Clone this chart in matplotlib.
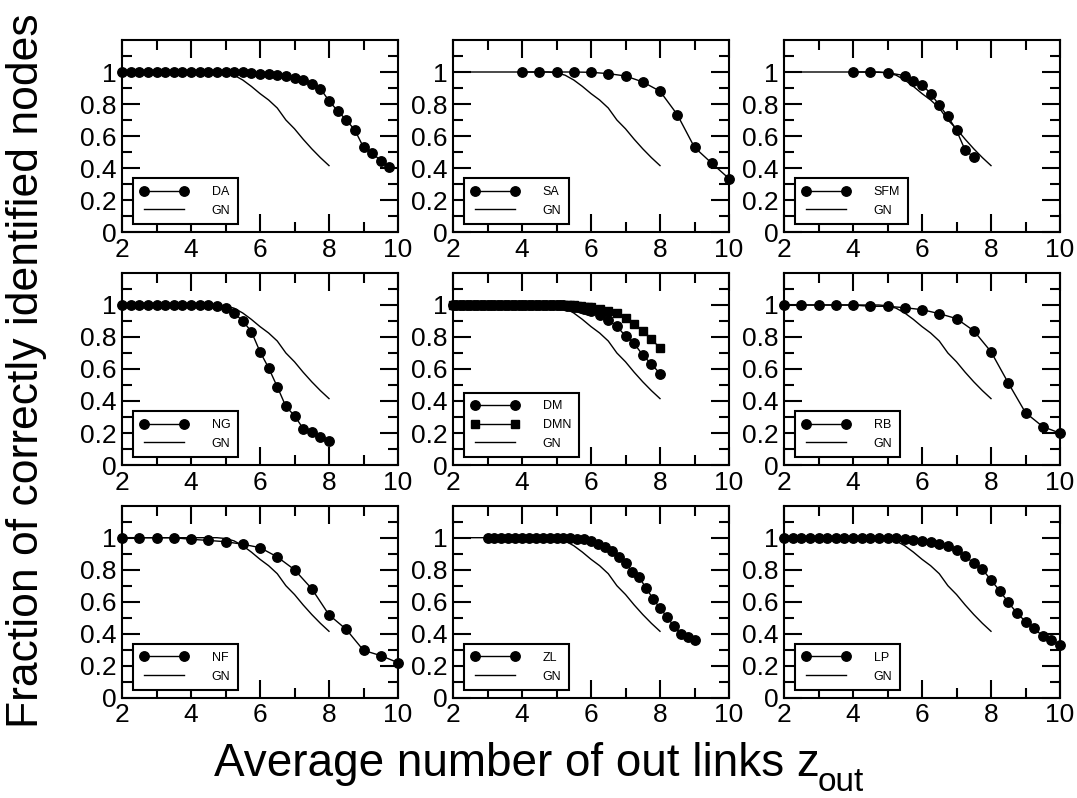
import matplotlib
matplotlib.use('Agg')
import matplotlib.pyplot as plt
import numpy as np

plt.rcParams['font.family'] = ['Liberation Sans', 'DejaVu Sans']

# GN reference curve (same in every panel)
gn_x = np.arange(2, 8.01, 0.25)
gn_y = [1.0, 1.0, 1.0, 1.0, 1.0, 1.0, 1.0, 1.0, 1.0, 1.0, 1.0, 1.0, 0.995,
        0.98, 0.95, 0.91, 0.865, 0.825, 0.775, 0.70, 0.645, 0.58, 0.52, 0.465, 0.415]

da_x = np.arange(2, 9.76, 0.25)
da_y = [1.0, 1.0, 1.0, 1.0, 1.0, 1.0, 1.0, 1.0, 1.0, 1.0, 1.0, 1.0, 1.0, 1.0, 1.0,
        0.996, 0.99, 0.985, 0.982, 0.973, 0.963, 0.952, 0.927, 0.896, 0.82, 0.757,
        0.70, 0.637, 0.529, 0.496, 0.444, 0.405]

sa_x = np.arange(4, 10.01, 0.5)
sa_y = [1.0, 1.0, 1.0, 1.0, 0.998, 0.99, 0.975, 0.938, 0.88, 0.734, 0.529, 0.43, 0.334]

sfm_x = [4, 4.5, 5, 5.5, 5.75, 6, 6.25, 6.5, 6.75, 7, 7.25, 7.5]
sfm_y = [1.0, 1.0, 0.996, 0.977, 0.944, 0.921, 0.865, 0.793, 0.722, 0.635, 0.512, 0.467]

ng_x = np.arange(2, 8.01, 0.25)
ng_y = [1.0, 1.0, 1.0, 1.0, 1.0, 1.0, 1.0, 1.0, 1.0, 1.0, 1.0,
        0.992, 0.979, 0.95, 0.90, 0.834, 0.708, 0.607, 0.489, 0.366, 0.308,
        0.228, 0.209, 0.178, 0.149]

dm_x = np.concatenate([np.arange(2, 5.95, 0.1), np.arange(6, 8.01, 0.25)])
dm_y = [1.0] * 30 + [0.999, 0.998, 0.997, 0.995, 0.993, 0.99, 0.985, 0.98, 0.975, 0.968,
                     0.96, 0.936, 0.905, 0.868, 0.805, 0.76, 0.687, 0.631, 0.571]
dmn_y = [1.0] * 30 + [1.0, 1.0, 0.999, 0.999, 0.998, 0.997, 0.995, 0.993, 0.99, 0.988,
                      0.985, 0.975, 0.965, 0.948, 0.921, 0.884, 0.839, 0.787, 0.731]

rb_x = np.arange(2, 10.01, 0.5)
rb_y = [1.0, 1.0, 1.0, 1.0, 1.0, 0.992, 0.992, 0.983, 0.971, 0.946, 0.915, 0.839,
        0.708, 0.513, 0.327, 0.240, 0.199]

nf_x = np.arange(2, 10.01, 0.5)
nf_y = [1.0, 1.0, 1.0, 1.0, 0.99, 0.983, 0.975, 0.959, 0.938, 0.88, 0.80, 0.681,
        0.518, 0.427, 0.296, 0.263, 0.219]

zl_x = np.arange(3, 9.01, 0.2)
zl_y = [1.0, 1.0, 1.0, 1.0, 1.0, 1.0, 1.0, 1.0, 1.0, 1.0, 1.0, 1.0,
        0.996, 0.993, 0.99, 0.981, 0.963, 0.942, 0.917, 0.882, 0.839, 0.787,
        0.752, 0.683, 0.619, 0.559, 0.507, 0.447, 0.40, 0.379, 0.36]

lp_x = np.arange(2, 10.01, 0.25)
lp_y = [1.0, 1.0, 1.0, 1.0, 1.0, 1.0, 1.0, 1.0, 1.0, 1.0, 1.0, 1.0, 1.0,
        0.996, 0.992, 0.986, 0.979, 0.973, 0.961, 0.948, 0.923, 0.886, 0.84,
        0.803, 0.735, 0.669, 0.596, 0.53, 0.476, 0.433, 0.385, 0.358, 0.33]

panels = [
    [('DA', da_x, da_y, 'o')],
    [('SA', sa_x, sa_y, 'o')],
    [('SFM', sfm_x, sfm_y, 'o')],
    [('NG', ng_x, ng_y, 'o')],
    [('DM', dm_x, dm_y, 'o'), ('DMN', dm_x, dmn_y, 's')],
    [('RB', rb_x, rb_y, 'o')],
    [('NF', nf_x, nf_y, 'o')],
    [('ZL', zl_x, zl_y, 'o')],
    [('LP', lp_x, lp_y, 'o')],
]

W, H = 1077, 798
fig = plt.figure(figsize=(W / 100, H / 100), dpi=100)
lefts = [122, 453, 784]
bottoms = [232, 465, 697.7]
aw, ah = 276, 192

for i, series in enumerate(panels):
    r, c = divmod(i, 3)
    ax = fig.add_axes([lefts[c] / W, 1 - bottoms[r] / H, aw / W, ah / H])
    for name, x, y, m in series:
        ax.plot(x, y, '-', marker=m, color='black', ms=6.8 if m == 'o' else 6.2,
                lw=1, clip_on=False, zorder=5, label=name)
    ax.plot(gn_x, gn_y, '-', color='black', lw=1, zorder=3, label='GN')

    ax.set_xlim(2, 10)
    ax.set_ylim(0, 1.2)
    ax.set_xticks([2, 4, 6, 8, 10])
    ax.set_xticks([3, 5, 7, 9], minor=True)
    ax.set_yticks([0, 0.2, 0.4, 0.6, 0.8, 1.0])
    ax.set_yticks([0.1, 0.3, 0.5, 0.7, 0.9, 1.1], minor=True)
    ax.set_yticklabels(['0', '0.2', '0.4', '0.6', '0.8', '1'])
    ax.tick_params(which='both', direction='in', top=True, right=True,
                   width=1.5, labelsize=19, pad=4)
    ax.tick_params(which='major', length=13)
    ax.tick_params(which='minor', length=7)
    for s in ax.spines.values():
        s.set_linewidth(1.5)

    leg = ax.legend(loc='lower left', bbox_to_anchor=(0.04, 0.04), fontsize=9,
                    numpoints=2, handlelength=3.8, handletextpad=1.9, borderpad=0.6,
                    labelspacing=0.55, fancybox=False, edgecolor='black', framealpha=1,
                    borderaxespad=0)
    leg.get_frame().set_linewidth(1.5)

fig.text(0.025, 0.536, 'Fraction of correctly identified nodes', rotation=90,
         fontsize=32, ha='center', va='center')

# x label with a lowered subscript
xl = fig.text(214 / W, 1 - 776 / H, 'Average number of out links z',
              fontsize=33, ha='left', va='baseline')
renderer = fig.canvas.get_renderer()
bb = xl.get_window_extent(renderer=renderer)
fig.text((bb.x1 - 2) / W, 1 - 791 / H, 'out', fontsize=24, ha='left', va='baseline')

fig.savefig('out.png', dpi=100)
